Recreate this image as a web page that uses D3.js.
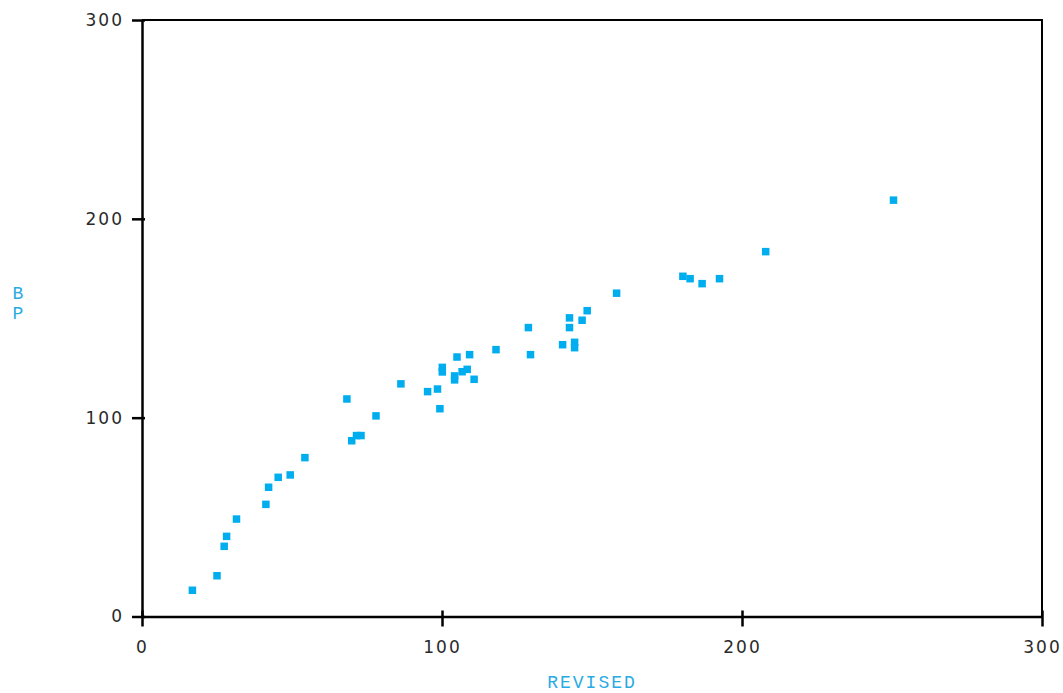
<!DOCTYPE html>
<html>
<head>
<meta charset="utf-8">
<script src="https://cdnjs.cloudflare.com/ajax/libs/d3/7.8.5/d3.min.js"></script>
<style>
  body { margin: 0; background: #fff; }
  .tick text { font-family: "DejaVu Sans", sans-serif; font-size: 17px; letter-spacing: 2px; fill: #2a2a2a; }
  .lbl { font-family: "Liberation Mono", "DejaVu Sans Mono", monospace; font-size: 18px; fill: #29abe2; letter-spacing: 2px; }
</style>
</head>
<body>
<div id="chart"></div>
<script>
// REVISED vs BP readings
var revised = [16.8, 25.0, 27.4, 28.2, 31.5, 41.3, 42.2, 45.4, 49.4, 54.3,
  68.3, 78.0, 69.9, 71.5, 73.0, 86.3, 95.2, 98.5, 99.3, 100.1,
  100.1, 104.2, 104.2, 105.0, 106.7, 108.4, 109.2, 110.7, 118.0, 128.8,
  129.5, 140.2, 144.2, 144.2, 142.5, 142.5, 146.7, 148.4, 158.2, 180.3,
  182.7, 186.7, 192.5, 207.9, 250.5];
var bp = [13.2, 20.5, 35.3, 40.3, 49.0, 56.4, 65.0, 70.0, 71.2, 79.9,
  109.4, 100.9, 88.4, 91.0, 91.0, 117.0, 113.1, 114.4, 104.5, 125.3,
  123.0, 121.0, 119.0, 130.5, 123.1, 124.3, 131.7, 119.3, 134.2, 145.3,
  131.7, 136.7, 137.9, 135.2, 150.2, 145.3, 149.0, 153.8, 162.6, 171.1,
  169.9, 167.4, 169.9, 183.5, 209.4];
var xTicks = [0, 100, 200, 300];
var yTicks = [0, 100, 200, 300];

var width = 1063, height = 693;
var margin = {top: 20, right: 20, bottom: 76, left: 142};

var svg = d3.select("#chart").append("svg")
  .attr("width", width)
  .attr("height", height);

var x = d3.scaleLinear().domain([0, 300]).range([margin.left, width - margin.right - 1]);
var y = d3.scaleLinear().domain([0, 300]).range([height - margin.bottom - 0.5, margin.top]);

// frame top/right
svg.append("path")
  .attr("d", "M" + x(0) + "," + y(300) + "H" + x(300) + "V" + y(0))
  .attr("fill", "none")
  .attr("stroke", "#000")
  .attr("stroke-width", 2);

var xAxis = svg.append("g")
  .attr("transform", "translate(0," + y(0) + ")")
  .call(d3.axisBottom(x).tickValues(xTicks).tickSizeOuter(0).tickSizeInner(10).tickPadding(14));
xAxis.select(".domain").attr("stroke-width", 2.5);
xAxis.selectAll(".tick line").attr("stroke-width", 2.5).attr("y1", -6);

var yAxis = svg.append("g")
  .attr("transform", "translate(" + x(0) + ",0)")
  .call(d3.axisLeft(y).tickValues(yTicks).tickSizeOuter(0).tickSizeInner(10).tickPadding(8));
yAxis.select(".domain").attr("stroke-width", 2.5);
yAxis.selectAll(".tick line").attr("stroke-width", 2.5).attr("x1", 3);

svg.append("g").selectAll("rect")
  .data(revised)
  .join("rect")
  .attr("x", function(d) { return x(d) - 3.75; })
  .attr("y", function(d, i) { return y(bp[i]) - 3.75; })
  .attr("width", 7.5)
  .attr("height", 7.5)
  .attr("fill", "#00aeef");

svg.append("text")
  .attr("class", "lbl")
  .attr("x", (x(0) + x(300)) / 2)
  .attr("y", 688)
  .attr("text-anchor", "middle")
  .text("REVISED");

svg.append("text")
  .attr("class", "lbl")
  .attr("x", 19)
  .attr("text-anchor", "middle")
  .selectAll("tspan")
  .data(["B", "P"])
  .join("tspan")
  .attr("x", 19)
  .attr("y", function(d, i) { return 299 + i * 20; })
  .text(function(d) { return d; });
</script>
</body>
</html>
